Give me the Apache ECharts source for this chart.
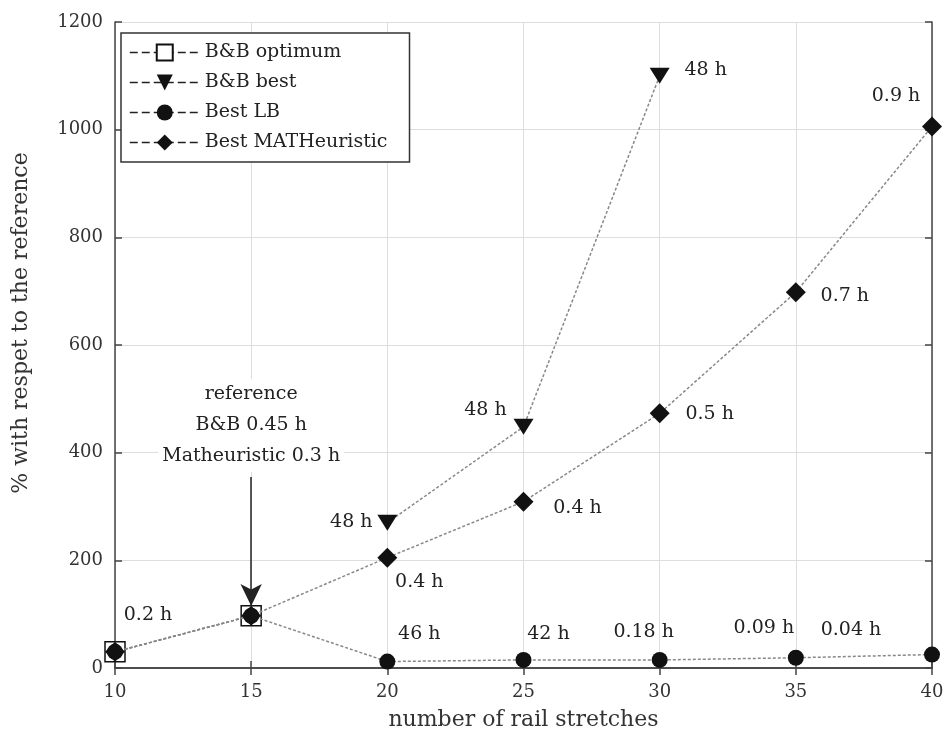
<!DOCTYPE html>
<html><head><meta charset="utf-8">
<script src="https://cdn.jsdelivr.net/npm/echarts@6/dist/echarts.min.js"></script>
<style>html,body{margin:0;padding:0;background:#fff}#c{width:947px;height:740px}</style>
</head><body><div id="c"></div>
<script>
var stretches = [10, 15, 20, 25, 30, 35, 40];
var bbOptimum = [30, 97, null, null, null, null, null];
var bbBest = [null, null, 270, 448, 1100, null, null];
var bestLB = [30, 97, 12, 15, 15, 19, 25];
var bestMath = [30, 97, 205, 309, 473, 698, 1006];
var bbBestLabels = ['', '', '48 h', '48 h', '48 h', '', ''];
var lbLabels = ['', '', '46 h', '42 h', '0.18 h', '0.09 h', '0.04 h'];
var mathLabels = ['0.2 h', '', '0.4 h', '0.4 h', '0.5 h', '0.7 h', '0.9 h'];
var refText = ['reference', 'B&B 0.45 h', 'Matheuristic 0.3 h'];

var FONT = 'DejaVu Serif';
// label offsets (style)
var bbBestOff = [null, null, [-36, -1], [-38, -17], [46, -6], null, null];
var lbOff = [null, null, [32, -27], [25, -26], [-16, -28], [-32, -30], [-81, -24]];
var mathOff = [[33, -37], null, [32, 24], [54, 6], [50, 1], [49, 4], [-36, -30]];

function build(vals, labels, offs) {
  var out = [];
  vals.forEach(function (v, i) {
    if (v === null) return;
    var d = { value: [stretches[i], v] };
    if (labels && labels[i]) {
      d.label = { show: true, formatter: labels[i], position: 'inside', offset: offs[i],
        align: 'center', verticalAlign: 'middle', color: '#222', fontFamily: FONT, fontSize: 19 };
    }
    out.push(d);
  });
  return out;
}
var lineStyle = { color: '#888', width: 1.5, type: [3, 2] };
var chart = echarts.init(document.getElementById('c'));
chart.setOption({
  animation: false,
  backgroundColor: '#fff',
  textStyle: { fontFamily: FONT },
  grid: { left: 115, right: 15, top: 22, bottom: 72, containLabel: false },
  legend: {
    orient: 'vertical', left: 121, top: 33, padding: [10, 22, 10, 8],
    itemGap: 11, itemWidth: 70, itemHeight: 20,
    borderColor: '#333', borderWidth: 1.5, backgroundColor: '#fff',
    textStyle: { fontFamily: FONT, fontSize: 19, color: '#222' },
    lineStyle: { color: '#222', type: [8, 4], width: 1.5 },
    data: ['B&B optimum', 'B&B best', 'Best LB', 'Best MATHeuristic']
  },
  xAxis: [{
    type: 'value', min: 10, max: 40, interval: 5,
    name: 'number of rail stretches', nameLocation: 'middle', nameGap: 41,
    nameTextStyle: { fontFamily: FONT, fontSize: 22, color: '#333' },
    axisLine: { lineStyle: { color: '#444', width: 1.5 } },
    axisTick: { inside: true, length: 7, lineStyle: { color: '#444', width: 1.5 } },
    axisLabel: { fontFamily: FONT, fontSize: 18, color: '#333', margin: 15 },
    splitLine: { show: true, lineStyle: { color: '#ddd', width: 1 } }
  }, {
    type: 'value', min: 10, max: 40, interval: 5, position: 'top',
    axisLine: { lineStyle: { color: '#444', width: 1.5 } },
    axisTick: { inside: true, length: 7, lineStyle: { color: '#444', width: 1.5 } },
    axisLabel: { show: false }, splitLine: { show: false }
  }],
  yAxis: [{
    type: 'value', min: 0, max: 1200, interval: 200,
    name: '% with respet to the reference', nameLocation: 'middle', nameGap: 83,
    nameTextStyle: { fontFamily: FONT, fontSize: 22, color: '#333', padding: [0, 0, 0, 44] },
    axisLine: { show: true, lineStyle: { color: '#444', width: 1.5 } },
    axisTick: { show: true, inside: true, length: 7, lineStyle: { color: '#444', width: 1.5 } },
    axisLabel: { fontFamily: FONT, fontSize: 18, color: '#333', margin: 12,
      formatter: function (v) { return String(v); } },
    splitLine: { show: true, lineStyle: { color: '#ddd', width: 1 } }
  }, {
    type: 'value', min: 0, max: 1200, interval: 200, position: 'right',
    axisLine: { show: true, lineStyle: { color: '#444', width: 1.5 } },
    axisTick: { show: true, inside: true, length: 7, lineStyle: { color: '#444', width: 1.5 } },
    axisLabel: { show: false }, splitLine: { show: false }
  }],
  series: [
    { name: 'B&B optimum', type: 'line', z: 2, symbol: 'rect', symbolSize: 20,
      data: build(bbOptimum), lineStyle: lineStyle,
      itemStyle: { color: '#fff', borderColor: '#111', borderWidth: 1.5 },
      markLine: {
        silent: true, symbol: ['none', 'arrow'], symbolSize: [16, 22],
        lineStyle: { color: '#222', width: 1.5, type: 'solid' },
        label: { show: false },
        data: [[{ coord: [15, 355] }, { coord: [15, 115] }]]
      },
      markPoint: {
        symbol: 'rect', symbolSize: 0,
        label: { show: true, formatter: refText.join('\n'), fontFamily: FONT, fontSize: 19,
          color: '#222', lineHeight: 31, backgroundColor: '#fff', padding: [0, 4],
          align: 'center', verticalAlign: 'middle' },
        data: [{ coord: [15, 451] }]
      }
    },
    { name: 'B&B best', type: 'line', z: 3, symbol: 'triangle', symbolRotate: 180, symbolSize: [20, 16],
      data: build(bbBest, bbBestLabels, bbBestOff), lineStyle: lineStyle,
      itemStyle: { color: '#111' } },
    { name: 'Best LB', type: 'line', z: 3, symbol: 'circle', symbolSize: 16,
      data: build(bestLB, lbLabels, lbOff), lineStyle: lineStyle,
      itemStyle: { color: '#111' } },
    { name: 'Best MATHeuristic', type: 'line', z: 4, symbol: 'diamond', symbolSize: 20,
      data: build(bestMath, mathLabels, mathOff), lineStyle: lineStyle,
      itemStyle: { color: '#111' } }
  ]
});
</script></body></html>
